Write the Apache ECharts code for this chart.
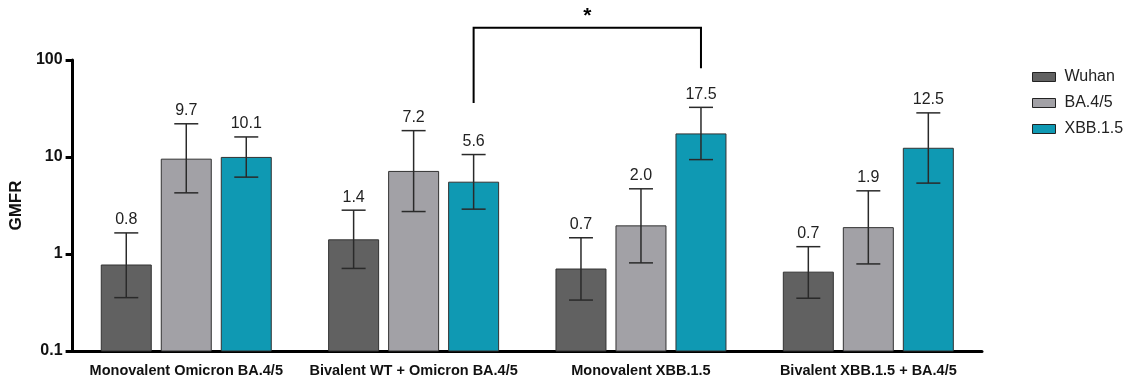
<!DOCTYPE html>
<html><head><meta charset="utf-8">
<script src="https://cdn.jsdelivr.net/npm/echarts@6/dist/echarts.min.js"></script>
<style>html,body{margin:0;padding:0;background:#fff}#c{width:1133px;height:383px}</style>
</head><body><div id="c"></div>
<script>
var categories = ['Monovalent Omicron BA.4/5', 'Bivalent WT + Omicron BA.4/5', 'Monovalent XBB.1.5', 'Bivalent XBB.1.5 + BA.4/5'];
var seriesNames = ['Wuhan', 'BA.4/5', 'XBB.1.5'];
var wuhanVals = [0.77, 1.40, 0.70, 0.65];
var ba45Vals = [9.5, 7.1, 1.95, 1.87];
var xbbVals = [9.9, 5.5, 17.3, 12.3];
var wuhanLabels = ['0.8', '1.4', '0.7', '0.7'];
var ba45Labels = ['9.7', '7.2', '2.0', '1.9'];
var xbbLabels = ['10.1', '5.6', '17.5', '12.5'];
var wuhanLow = [0.355, 0.71, 0.335, 0.35];
var wuhanHigh = [1.65, 2.83, 1.47, 1.19];
var ba45Low = [4.27, 2.74, 0.81, 0.79];
var ba45High = [22.0, 18.7, 4.7, 4.48];
var xbbLow = [6.2, 2.9, 9.4, 5.38];
var xbbHigh = [16.1, 10.6, 32.5, 28.5];
var yTicks = [0.1, 1, 10, 100];
// significance bracket: [fromCategory, toCategory, leftLegBottom, rightLegBottom, top]
var bracket = [1, 2, 36, 82, 215];
var bracketMark = '*';

var colors = ['#616161', '#a2a1a6', '#0f99b3'];
var FONT = '"Liberation Sans", Arial, sans-serif';
var OFFS = [-60, 0, 60];
var BARW = 50;
var vals = [wuhanVals, ba45Vals, xbbVals];
var labs = [wuhanLabels, ba45Labels, xbbLabels];
var lows = [wuhanLow, ba45Low, xbbLow];
var highs = [wuhanHigh, ba45High, xbbHigh];
var yMin = yTicks[0], yMax = yTicks[yTicks.length - 1];

function barRender(si) {
  return function (params, api) {
    var c = api.value(0);
    var top = api.coord([c, api.value(1)]);
    var base = api.coord([c, yMin]);
    var x = top[0] + OFFS[si] - BARW / 2;
    return { type: 'rect', shape: { x: x, y: top[1], width: BARW, height: base[1] - top[1] },
      style: { fill: api.visual('color'), stroke: '#333', lineWidth: 1 } };
  };
}

function errRender(si) {
  return function (params, api) {
    var c = api.value(0);
    var lo = api.coord([c, api.value(1)]);
    var hi = api.coord([c, api.value(2)]);
    var x = lo[0] + OFFS[si];
    var cap = 12;
    var st = { stroke: '#2a2a2a', lineWidth: 1.5 };
    return { type: 'group', children: [
      { type: 'line', shape: { x1: x, y1: hi[1], x2: x, y2: lo[1] }, style: st },
      { type: 'line', shape: { x1: x - cap, y1: hi[1], x2: x + cap, y2: hi[1] }, style: st },
      { type: 'line', shape: { x1: x - cap, y1: lo[1], x2: x + cap, y2: lo[1] }, style: st },
      { type: 'text', x: x, y: hi[1] - 5, style: { text: labs[si][params.dataIndex], align: 'center', verticalAlign: 'bottom', font: '16px ' + FONT, fill: '#222' } }
    ] };
  };
}

var series = [];
for (var i = 0; i < 3; i++) {
  var bd = [];
  for (var m = 0; m < categories.length; m++) bd.push([m, vals[i][m]]);
  series.push({
    name: seriesNames[i], type: 'custom', renderItem: barRender(i), data: bd,
    encode: { x: 0, y: 1 }, itemStyle: { color: colors[i] }, z: 2
  });
}
for (var j = 0; j < 3; j++) {
  var d = [];
  for (var k = 0; k < categories.length; k++) d.push([k, lows[j][k], highs[j][k]]);
  series.push({ type: 'custom', renderItem: errRender(j), data: d, encode: { x: 0, y: [1, 2] }, clip: false, silent: true, z: 5 });
}
series.push({
  type: 'custom', clip: false, silent: true, z: 5,
  data: [bracket],
  encode: { x: [0, 1], y: [2, 3, 4] },
  renderItem: function (params, api) {
    var a = api.coord([api.value(0), api.value(2)]);
    var b = api.coord([api.value(1), api.value(3)]);
    var t = api.coord([api.value(0), api.value(4)]);
    var xa = a[0] + OFFS[2], xb = b[0] + OFFS[2];
    var st = { stroke: '#000', lineWidth: 2, fill: null };
    return { type: 'group', children: [
      { type: 'polyline', shape: { points: [[xa, a[1]], [xa, t[1]], [xb, t[1]], [xb, b[1]]] }, style: st },
      { type: 'text', x: (xa + xb) / 2, y: t[1] - 1, style: { text: bracketMark, align: 'center', verticalAlign: 'bottom', font: 'bold 21px ' + FONT, fill: '#000' } }
    ] };
  }
});

var chart = echarts.init(document.getElementById('c'), null, { renderer: 'canvas' });
chart.setOption({
  animation: false,
  grid: { left: 68, right: 151, top: 60, bottom: 32 },
  legend: {
    orient: 'vertical', left: 1027, top: 64, itemWidth: 23, itemHeight: 9, itemGap: 10,
    data: seriesNames,
    icon: 'rect',
    itemStyle: { borderColor: '#222', borderWidth: 1 },
    textStyle: { fontFamily: FONT, fontSize: 16, color: '#222', padding: [0, 0, 0, 4] }
  },
  xAxis: {
    type: 'category', data: categories,
    axisLine: { lineStyle: { color: '#000', width: 3 } },
    axisTick: { alignWithLabel: true, length: 7, lineStyle: { color: '#000', width: 3 } },
    axisLabel: { interval: 0, margin: 12, fontFamily: FONT, fontWeight: 'bold', fontSize: 14.5, color: '#111' }
  },
  yAxis: {
    type: 'log', logBase: 10, min: yMin, max: yMax,
    name: 'GMFR', nameLocation: 'middle', nameGap: 38,
    nameTextStyle: { fontFamily: FONT, fontWeight: 'bold', fontSize: 17, color: '#111' },
    axisLine: { show: true, lineStyle: { color: '#000', width: 3 } },
    axisTick: { show: true, length: 7, lineStyle: { color: '#000', width: 3 } },
    splitLine: { show: false },
    minorTick: { show: false },
    axisLabel: { margin: 10, fontFamily: FONT, fontWeight: 'bold', fontSize: 16, color: '#111',
      formatter: function (v) { for (var q = 0; q < yTicks.length; q++) { if (Math.abs(v - yTicks[q]) < 1e-9 * yTicks[q]) return String(yTicks[q]); } return ''; } }
  },
  series: series
});
</script></body></html>
